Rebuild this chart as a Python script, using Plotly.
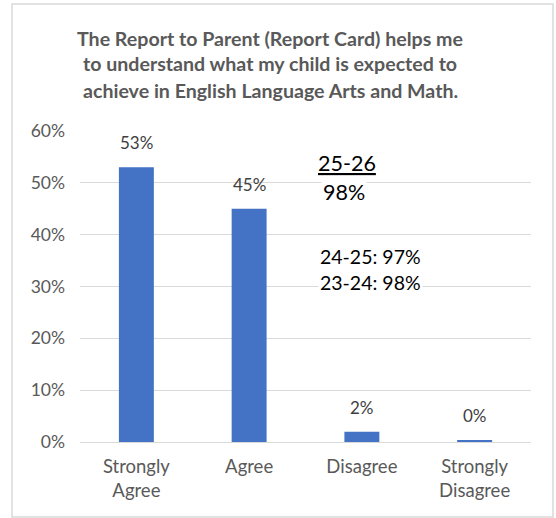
import plotly.graph_objects as go

categories = ["Strongly<br>Agree", "Agree", "Disagree", "Strongly<br>Disagree"]
shares = [0.53, 0.45, 0.02, 0.003]
y_ticks = [0, 0.1, 0.2, 0.3, 0.4, 0.5, 0.6]

title_lines = [
    "The Report to Parent (Report Card) helps me",
    "to understand what my child is expected to",
    "achieve in English Language Arts and Math.",
]

FONT = "Lato, Calibri, Arial, sans-serif"
GRID = "#D9D9D9"
TXT = "#595959"

# Plot-area geometry in pixels, used to place paper-referenced text
L, R, T, B = 80, 25, 131, 76
W, H = 556, 518
PW, PH = W - L - R, H - T - B


def px_x(px):
    return (px - L) / PW


def px_y(py):
    return (H - B - py) / PH


fig = go.Figure(
    go.Bar(
        x=categories,
        y=shares,
        width=0.31,
        marker=dict(color="#4472C4", line=dict(width=0)),
        cliponaxis=False,
    )
)

# Value labels above each bar
for cat, val in zip(categories, shares):
    fig.add_annotation(
        x=cat, y=val, yanchor="bottom", yshift=12,
        text=f"{val:.0%}", showarrow=False,
        font=dict(family=FONT, size=17, color="#404040"),
    )

fig.update_layout(
    width=W,
    height=H,
    margin=dict(l=L, r=R, t=T, b=B),
    paper_bgcolor="white",
    plot_bgcolor="white",
    showlegend=False,
    font=dict(family=FONT, color=TXT),
    bargap=0.69,
    xaxis=dict(
        showgrid=False,
        showline=False,
        zeroline=False,
        ticks="",
        tickfont=dict(family=FONT, size=18.5, color=TXT),
        ticklabelstandoff=11,
    ),
    yaxis=dict(
        range=[0, 0.6],
        tickvals=y_ticks,
        tickformat=".0%",
        showgrid=True,
        gridcolor=GRID,
        gridwidth=1,
        zeroline=True,
        zerolinecolor=GRID,
        zerolinewidth=1,
        showline=False,
        ticks="",
        tickfont=dict(family=FONT, size=17.5, color=TXT),
        ticklabelstandoff=14,
    ),
)

# Chart title, one line per annotation for exact line spacing
for i, line in enumerate(title_lines):
    fig.add_annotation(
        xref="paper", yref="paper", x=px_x(270), y=px_y(38 + 26 * i),
        xanchor="center", yanchor="middle",
        text="<b>" + line + "</b>",
        showarrow=False, align="center",
        font=dict(family=FONT, size=19.6, color=TXT),
    )

# Year-over-year callouts
callouts = [
    ("<u>25-26</u>", 316, 163, 21.5),
    ("98%", 321, 192, 21.5),
    ("24-25: 97%", 318, 256, 19.5),
    ("23-24: 98%", 318, 282, 19.5),
]
for text, px, py, size in callouts:
    fig.add_annotation(
        xref="paper", yref="paper",
        x=px_x(px), y=px_y(py),
        xanchor="left", yanchor="middle",
        text=text, showarrow=False,
        bgcolor="white", borderpad=1,
        font=dict(family=FONT, size=size, color="#000000"),
    )

# Chart frame
fig.add_shape(
    type="rect", xref="paper", yref="paper",
    x0=px_x(12), x1=px_x(553),
    y0=px_y(517), y1=px_y(4),
    line=dict(color=GRID, width=1.5), fillcolor="rgba(0,0,0,0)",
    layer="below",
)

fig.write_html("out.html")
